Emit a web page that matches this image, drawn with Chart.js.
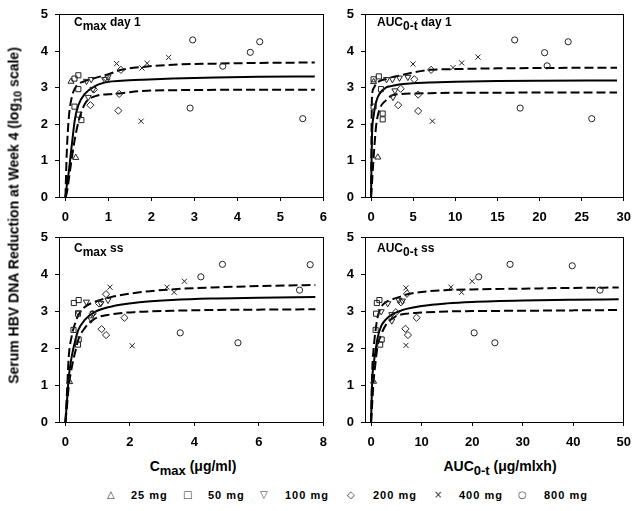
<!DOCTYPE html>
<html>
<head>
<meta charset="utf-8">
<script src="https://cdn.jsdelivr.net/npm/chart.js@4.4.1/dist/chart.umd.min.js"></script>
<style>
  body { margin: 0; background: #fff; width: 640px; height: 511px; position: relative; overflow: hidden;
         font-family: "Liberation Sans", Arial, sans-serif; font-weight: bold; color: #000; }
  canvas { position: absolute; }
  .ptitle { position: absolute; font-size: 12px; line-height: 14px; white-space: nowrap; }
  .ptitle sub { font-size: 12px; vertical-align: baseline; position: relative; top: 4px; }
  .xtitle { position: absolute; font-size: 14px; line-height: 16px; text-align: center; white-space: nowrap; }
  .xtitle sub { font-size: 13px; vertical-align: baseline; position: relative; top: 4px; }
  .ytitle { position: absolute; width: 400px; left: -186px; top: 207px; font-size: 14px; line-height: 16px;
            text-align: center; white-space: nowrap; transform: rotate(-90deg); }
  .ytitle sub { font-size: 11px; vertical-align: baseline; position: relative; top: 3px; }
  .lg { position: absolute; top: 488px; font-size: 11px; line-height: 14px; letter-spacing: 1px; white-space: nowrap; }
  .mk { position: absolute; top: 488px; font-size: 10px; line-height: 14px; font-weight: normal;
        font-family: "DejaVu Sans", sans-serif; color: #333; }
</style>
</head>
<body>
<canvas id="c1" width="336" height="222" style="left:0;top:0"></canvas>
<canvas id="c2" width="334" height="222" style="left:306px;top:0"></canvas>
<canvas id="c3" width="336" height="224" style="left:0;top:223px"></canvas>
<canvas id="c4" width="334" height="224" style="left:306px;top:223px"></canvas>

<div class="ptitle" style="left:74px;top:15px">C<sub>max</sub> day 1</div>
<div class="ptitle" style="left:377px;top:15px">AUC<sub>0-t</sub> day 1</div>
<div class="ptitle" style="left:74px;top:241px">C<sub>max</sub> ss</div>
<div class="ptitle" style="left:377px;top:241px">AUC<sub>0-t</sub> ss</div>

<div class="ytitle">Serum HBV DNA Reduction at Week 4 (log<sub>10</sub> scale)</div>
<div class="xtitle" style="left:93px;top:458px;width:200px">C<sub>max</sub> (μg/ml)</div>
<div class="xtitle" style="left:400px;top:458px;width:200px">AUC<sub>0-t</sub> (μg/mlxh)</div>

<div id="legend"></div>

<script>
// dose groups
const doseLabels = ['25 mg', '50 mg', '100 mg', '200 mg', '400 mg', '800 mg'];
const doseGlyphs = ['△', '□', '▽', '◇', '×', '○'];

const yTicks = [0, 1, 2, 3, 4, 5];

// Cmax day 1 (one list per dose, [x, y])
const cmaxDay1Points = [
  [[0.24, 1.08], [0.13, 3.17]],
  [[0.21, 3.25], [0.30, 3.34], [0.30, 2.96], [0.21, 2.48], [0.31, 2.26], [0.37, 2.11]],
  [[0.49, 3.18], [0.60, 3.23], [0.91, 3.23], [0.99, 3.30], [0.64, 2.96], [0.53, 2.74]],
  [[1.29, 3.49], [0.96, 3.25], [0.66, 2.95], [1.25, 2.83], [0.58, 2.52], [1.23, 2.37]],
  [[1.19, 3.66], [1.90, 3.67], [1.78, 3.54], [2.40, 3.83], [1.76, 2.08]],
  [[2.96, 4.31], [4.52, 4.26], [4.30, 3.97], [3.66, 3.59], [2.90, 2.44], [5.52, 2.15]]
];
const cmaxDay1CurveX = [0, 0.03, 0.08, 0.15, 0.22, 0.3, 0.45, 0.7, 1, 1.3, 1.8, 2.5, 3.5, 4.5, 5.8];
const cmaxDay1Fit    = [0, 0.3, 0.72, 1.45, 2.13, 2.52, 2.83, 3.05, 3.16, 3.19, 3.22, 3.25, 3.28, 3.30, 3.31];
const cmaxDay1Upper  = [0, 1.2, 2.2, 2.75, 2.98, 3.1, 3.18, 3.27, 3.37, 3.49, 3.57, 3.63, 3.66, 3.68, 3.69];
const cmaxDay1Lower  = [0, 0.1, 0.5, 1.08, 1.6, 2.05, 2.55, 2.77, 2.82, 2.85, 2.91, 2.93, 2.94, 2.94, 2.94];
const cmaxDay1Ticks  = [0, 1, 2, 3, 4, 5, 6];

// AUC0-t day 1
const aucDay1Points = [
  [[0.80, 1.09], [0.30, 3.16]],
  [[0.92, 3.31], [0.30, 3.23], [1.18, 2.96], [0.30, 2.48], [1.38, 2.29], [1.38, 2.13]],
  [[1.84, 3.23], [2.53, 3.23], [3.37, 3.27], [4.37, 3.29], [2.83, 2.92], [2.60, 2.74]],
  [[7.13, 3.49], [5.13, 3.23], [3.52, 2.97], [5.59, 2.81], [3.22, 2.52], [5.59, 2.36]],
  [[4.98, 3.65], [9.73, 3.55], [10.76, 3.68], [12.7, 3.84], [7.28, 2.08]],
  [[17.05, 4.31], [20.6, 3.96], [23.4, 4.26], [20.9, 3.60], [17.7, 2.44], [26.2, 2.15]]
];
const aucDay1CurveX = [0, 0.1, 0.3, 0.6, 1, 1.8, 2.5, 3.3, 5, 7, 10, 15, 20, 29.2];
const aucDay1Fit    = [0, 1.6, 2.22, 2.61, 2.83, 3.01, 3.05, 3.09, 3.12, 3.14, 3.16, 3.18, 3.19, 3.20];
const aucDay1Upper  = [0, 2.7, 2.98, 3.12, 3.18, 3.24, 3.29, 3.33, 3.42, 3.49, 3.51, 3.53, 3.54, 3.55];
const aucDay1Lower  = [0, 0.35, 1.07, 1.95, 2.4, 2.66, 2.79, 2.82, 2.84, 2.85, 2.86, 2.86, 2.87, 2.87];
const aucDay1Ticks  = [0, 5, 10, 15, 20, 25, 30];

// Cmax steady state
const cmaxSsPoints = [
  [[0.13, 1.09]],
  [[0.26, 3.23], [0.41, 3.31], [0.39, 2.94], [0.41, 2.24], [0.39, 2.10], [0.25, 2.50]],
  [[0.65, 3.26], [1.32, 3.31], [1.10, 3.22], [0.86, 2.95], [0.80, 2.78], [0.40, 2.97]],
  [[1.26, 3.47], [1.04, 3.22], [0.84, 2.94], [1.83, 2.83], [1.12, 2.52], [1.26, 2.36]],
  [[1.38, 3.66], [3.15, 3.66], [3.37, 3.52], [3.69, 3.82], [2.07, 2.07]],
  [[4.87, 4.28], [4.20, 3.94], [7.59, 4.27], [7.26, 3.58], [3.56, 2.42], [5.35, 2.15]]
];
const cmaxSsCurveX = [0, 0.05, 0.1, 0.2, 0.3, 0.4, 0.6, 0.9, 1.4, 2.3, 3.3, 4.5, 6, 7.75];
const cmaxSsFit    = [0, 0.6, 1.2, 1.8, 2.2, 2.5, 2.77, 2.98, 3.13, 3.25, 3.31, 3.35, 3.37, 3.39];
const cmaxSsUpper  = [0, 0.85, 1.75, 2.35, 2.68, 2.9, 3.12, 3.26, 3.39, 3.52, 3.6, 3.65, 3.69, 3.72];
const cmaxSsLower  = [0, 0.45, 0.95, 1.5, 1.89, 2.24, 2.55, 2.8, 2.92, 2.99, 3.02, 3.04, 3.05, 3.06];
const cmaxSsTicks  = [0, 2, 4, 6, 8];

// AUC0-t steady state
const aucSsPoints = [
  [[0.5, 1.10]],
  [[1.15, 3.23], [1.65, 3.31], [1.0, 2.94], [2.1, 2.24], [1.8, 2.10], [0.9, 2.50]],
  [[3.3, 3.22], [5.5, 3.31], [6.2, 3.29], [4.1, 2.92], [4.1, 2.75], [2.0, 3.0]],
  [[7.1, 3.48], [5.9, 3.25], [4.9, 2.98], [9.0, 2.83], [6.8, 2.53], [7.3, 2.36]],
  [[6.9, 3.64], [15.8, 3.66], [17.9, 3.52], [20.0, 3.82], [6.9, 2.08]],
  [[27.5, 4.28], [21.3, 3.94], [39.8, 4.24], [45.3, 3.58], [20.4, 2.42], [24.5, 2.15]]
];
const aucSsCurveX = [0, 0.25, 0.5, 0.9, 1.3, 2, 2.9, 4.2, 5.5, 7, 10, 15, 20, 30, 40, 49];
const aucSsFit    = [0, 1.19, 1.55, 1.95, 2.29, 2.6, 2.78, 2.92, 3.0, 3.07, 3.15, 3.22, 3.26, 3.3, 3.32, 3.33];
const aucSsUpper  = [0, 1.46, 1.98, 2.5, 2.85, 3.12, 3.25, 3.33, 3.39, 3.46, 3.53, 3.58, 3.6, 3.62, 3.64, 3.65];
const aucSsLower  = [0, 0.55, 1.11, 1.63, 2.07, 2.37, 2.63, 2.81, 2.9, 2.94, 2.97, 3.0, 3.01, 3.02, 3.03, 3.04];
const aucSsTicks  = [0, 10, 20, 30, 40, 50];

const markerStyle = ['triangle', 'rect', 'triangle', 'rectRot', 'crossRot', 'circle'];
const markerRot   = [0, 0, 180, 0, 0, 0];
const markerSize  = [3.5, 3.6, 3.5, 3.6, 3.6, 3.1];

const tickFont = { family: "'Liberation Sans', Arial, sans-serif", size: 13, weight: 'bold' };

const framePlugin = {
  id: 'frame',
  afterDraw(chart) {
    const a = chart.chartArea, g = chart.ctx;
    g.save();
    g.strokeStyle = '#000';
    g.lineWidth = 1;
    const l = Math.round(a.left - 0.5) + 0.5, t = Math.round(a.top - 0.5) + 0.5;
    const r = Math.round(a.right - 0.5) + 0.5, b = Math.round(a.bottom - 0.5) + 0.5;
    g.strokeRect(l, t, r - l, b - t);
    g.restore();
  }
};

function curve(xs, ys, dashed) {
  return {
    type: 'line',
    data: xs.map((x, i) => ({ x: x, y: ys[i] })),
    borderColor: '#000',
    borderWidth: 2,
    borderDash: dashed ? [9, 4] : [],
    pointRadius: 0,
    fill: false,
    cubicInterpolationMode: 'monotone'
  };
}

function panel(id, pts, cx, fit, up, lo, xTicks, xMin, xMax, padRight) {
  const datasets = doseLabels.map((lab, i) => ({
    type: 'scatter',
    label: lab,
    data: pts[i].map(p => ({ x: p[0], y: p[1] })),
    pointStyle: markerStyle[i],
    pointRotation: markerRot[i],
    pointRadius: markerSize[i],
    pointBorderColor: '#222',
    pointBackgroundColor: 'rgba(0,0,0,0)',
    pointBorderWidth: 1,
    showLine: false
  }));
  datasets.push(curve(cx, fit, false), curve(cx, up, true), curve(cx, lo, true));

  new Chart(document.getElementById(id), {
    type: 'scatter',
    data: { datasets: datasets },
    options: {
      responsive: false,
      animation: false,
      events: [],
      layout: { padding: { left: 0, top: 8, right: padRight, bottom: 0 } },
      plugins: { legend: { display: false }, tooltip: { enabled: false } },
      scales: {
        x: {
          type: 'linear',
          min: xMin,
          max: xMax,
          afterBuildTicks: s => { s.ticks = xTicks.map(v => ({ value: v })); },
          afterFit: s => { s.height = 25; },
          ticks: { font: tickFont, color: '#000', padding: 9, maxRotation: 0, autoSkip: false },
          grid: { display: true, drawOnChartArea: false, drawTicks: true, tickLength: 4, color: '#000' },
          border: { display: true, color: '#000', width: 1 }
        },
        y: {
          type: 'linear',
          min: 0,
          max: 5,
          afterBuildTicks: s => { s.ticks = yTicks.map(v => ({ value: v })); },
          afterFit: s => { s.width = 59; },
          ticks: { font: tickFont, color: '#000', padding: 7 },
          grid: { display: true, drawOnChartArea: false, drawTicks: true, tickLength: 4, color: '#000' },
          border: { display: true, color: '#000', width: 1 }
        }
      }
    },
    plugins: [framePlugin]
  });
}

panel('c1', cmaxDay1Points, cmaxDay1CurveX, cmaxDay1Fit, cmaxDay1Upper, cmaxDay1Lower, cmaxDay1Ticks, -0.15, 6, 9);
panel('c2', aucDay1Points, aucDay1CurveX, aucDay1Fit, aucDay1Upper, aucDay1Lower, aucDay1Ticks, -0.72, 30, 8);
panel('c3', cmaxSsPoints, cmaxSsCurveX, cmaxSsFit, cmaxSsUpper, cmaxSsLower, cmaxSsTicks, -0.2, 8, 9);
panel('c4', aucSsPoints, aucSsCurveX, aucSsFit, aucSsUpper, aucSsLower, aucSsTicks, -1.2, 50, 8);

// legend row
const legendGlyphX = [107, 183, 260, 347, 434, 518];
const legendTextX  = [131, 208, 285, 373, 459, 544];
const legend = document.getElementById('legend');
doseLabels.forEach((lab, i) => {
  const m = document.createElement('div');
  m.className = 'mk';
  m.style.left = legendGlyphX[i] + 'px';
  m.textContent = doseGlyphs[i];
  legend.appendChild(m);
  const t = document.createElement('div');
  t.className = 'lg';
  t.style.left = legendTextX[i] + 'px';
  t.textContent = lab;
  legend.appendChild(t);
});
</script>
</body>
</html>
